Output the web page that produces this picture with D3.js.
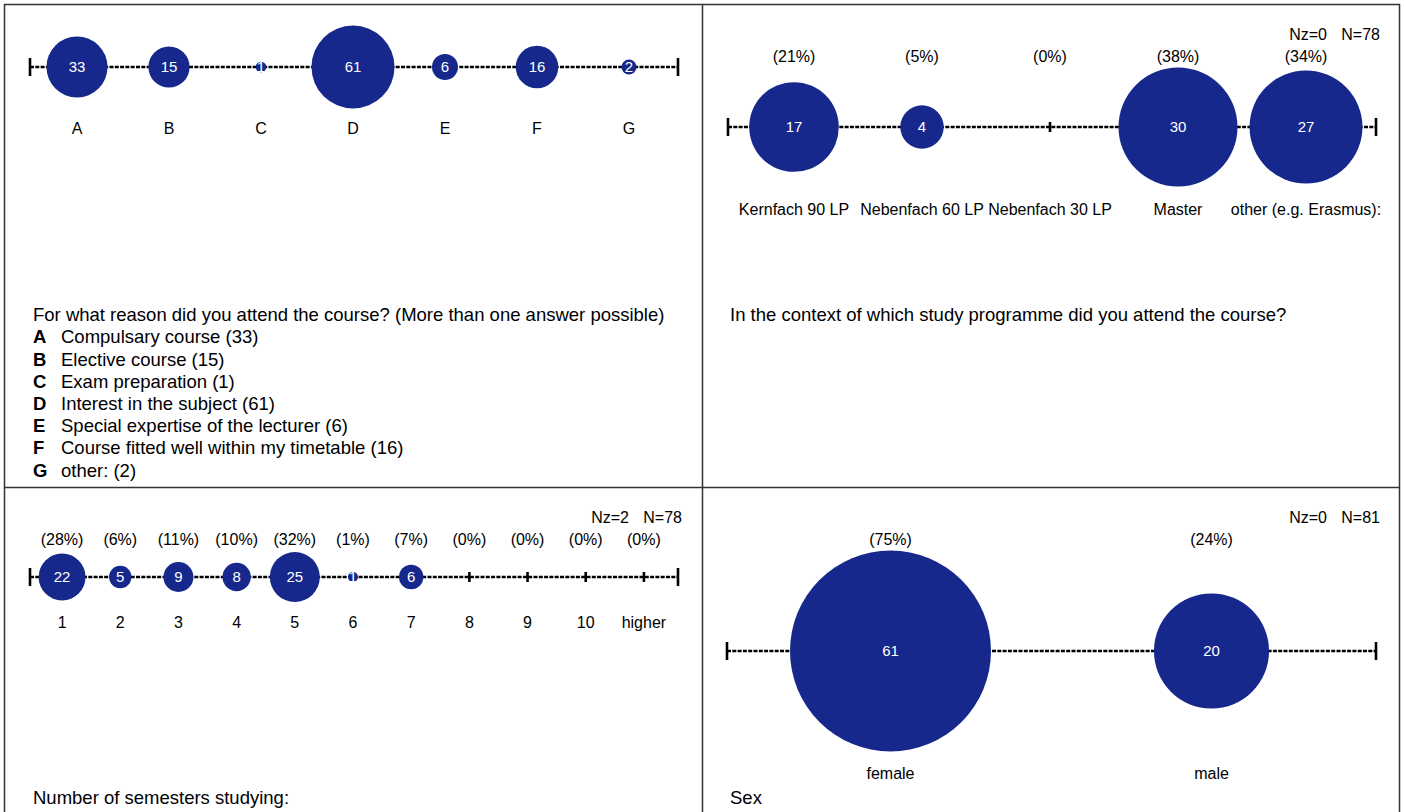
<!DOCTYPE html>
<html><head><meta charset="utf-8">
<script src="https://cdn.jsdelivr.net/npm/d3@7"></script>
<style>
html,body{margin:0;padding:0;background:#fff;}
svg{display:block;font-family:"Liberation Sans",Arial,sans-serif;}
</style></head>
<body>
<svg id="chart" width="1404" height="812"></svg>
<script>
// ---------- data ----------
const reasonCats = ["A","B","C","D","E","F","G"];
const reasonVals = [33,15,1,61,6,16,2];
const reasonDesc = ["Compulsary course (33)","Elective course (15)","Exam preparation (1)","Interest in the subject (61)","Special expertise of the lecturer (6)","Course fitted well within my timetable (16)","other: (2)"];
const reasonTitle = "For what reason did you attend the course? (More than one answer possible)";

const programmeCats = ["Kernfach 90 LP","Nebenfach 60 LP","Nebenfach 30 LP","Master","other (e.g. Erasmus):"];
const programmeVals = [17,4,0,30,27];
const programmePct = ["(21%)","(5%)","(0%)","(38%)","(34%)"];
const programmeTitle = "In the context of which study programme did you attend the course?";
const programmeNz = "Nz=0", programmeN = "N=78";

const semesterCats = ["1","2","3","4","5","6","7","8","9","10","higher"];
const semesterVals = [22,5,9,8,25,1,6,0,0,0,0];
const semesterPct = ["(28%)","(6%)","(11%)","(10%)","(32%)","(1%)","(7%)","(0%)","(0%)","(0%)","(0%)"];
const semesterTitle = "Number of semesters studying:";
const semesterNz = "Nz=2", semesterN = "N=78";

const sexCats = ["female","male"];
const sexVals = [61,20];
const sexPct = ["(75%)","(24%)"];
const sexTitle = "Sex";
const sexNz = "Nz=0", sexN = "N=81";

// ---------- drawing ----------
const svg = d3.select("#chart");
const BLUE = "#17288c";
const FS = 16, VFS = 15, TFS = 18.5;

// frame
svg.append("rect").attr("x",4.5).attr("y",4.5).attr("width",1395).attr("height",820)
  .attr("fill","none").attr("stroke","#333").attr("stroke-width",1.5);
svg.append("line").attr("x1",702.5).attr("x2",702.5).attr("y1",4).attr("y2",812).attr("stroke","#333").attr("stroke-width",1.5);
svg.append("line").attr("x1",4).attr("x2",1400).attr("y1",487.5).attr("y2",487.5).attr("stroke","#333").attr("stroke-width",1.5);

function panel(o){
  const g = svg.append("g");
  const x = d3.scalePoint().domain(o.cats).range(o.range).padding(0.5);
  const r = d3.scaleSqrt().domain([0, d3.max(o.vals)]).range([0, o.rmax]);
  // dashed axis line
  g.append("line").attr("x1",o.ax[0]).attr("x2",o.ax[1]).attr("y1",o.y).attr("y2",o.y)
    .attr("stroke","#000").attr("stroke-width",2.7).attr("stroke-dasharray","4,1.3");
  // end caps
  o.ax.forEach(v=>g.append("line").attr("x1",v).attr("x2",v).attr("y1",o.y-9).attr("y2",o.y+9)
    .attr("stroke","#000").attr("stroke-width",2.6));
  // category ticks
  g.selectAll(".tk").data(o.cats).join("line")
    .attr("x1",d=>x(d)).attr("x2",d=>x(d)).attr("y1",o.y-5).attr("y2",o.y+5)
    .attr("stroke","#000").attr("stroke-width",2.6);
  // circles
  const idx = d3.range(o.cats.length);
  g.selectAll("circle").data(idx.filter(i=>o.vals[i]>0)).join("circle")
    .attr("cx",i=>x(o.cats[i])).attr("cy",o.y).attr("r",i=>r(o.vals[i])).attr("fill",BLUE);
  g.selectAll(".val").data(idx.filter(i=>o.vals[i]>0)).join("text")
    .attr("x",i=>x(o.cats[i])).attr("y",o.y).attr("dy","0.35em").attr("text-anchor","middle")
    .attr("fill","#fff").attr("font-size",VFS).text(i=>o.vals[i]);
  // category labels
  g.selectAll(".cl").data(o.cats).join("text")
    .attr("x",d=>x(d)).attr("y",o.labY).attr("dy","0.35em").attr("text-anchor","middle")
    .attr("font-size",FS).attr("fill","#000").text(d=>d);
  if(o.pct){
    g.selectAll(".pc").data(o.pct).join("text")
      .attr("x",(d,i)=>x(o.cats[i])).attr("y",o.pctY).attr("dy","0.35em").attr("text-anchor","middle")
      .attr("font-size",FS).attr("fill","#000").text(d=>d);
  }
  if(o.N){
    g.append("text").attr("x",o.nx).attr("y",o.nY).attr("dy","0.35em").attr("text-anchor","end")
      .attr("font-size",FS).text(o.N);
    g.append("text").attr("x",o.nx-53).attr("y",o.nY).attr("dy","0.35em").attr("text-anchor","end")
      .attr("font-size",FS).text(o.Nz);
  }
  g.append("text").attr("x",o.tx).attr("y",o.ty).attr("dy","0.35em").attr("font-size",TFS).text(o.title);
}

panel({cats:reasonCats, vals:reasonVals, range:[31,675], ax:[30,678], y:67, rmax:41.5, labY:128,
  tx:33, ty:315, title:reasonTitle});
// legend for reasons
const leg = svg.append("g");
reasonCats.forEach((c,i)=>{
  const yy = 337 + i*22.2;
  leg.append("text").attr("x",33).attr("y",yy).attr("dy","0.35em").attr("font-size",TFS).attr("font-weight","bold").text(c);
  leg.append("text").attr("x",61).attr("y",yy).attr("dy","0.35em").attr("font-size",TFS).text(reasonDesc[i]);
});

panel({cats:programmeCats, vals:programmeVals, pct:programmePct, range:[730,1370], ax:[728,1376], y:127, rmax:59.5,
  labY:209, pctY:56, nY:34, nx:1380, N:programmeN, Nz:programmeNz, tx:730, ty:315, title:programmeTitle});

panel({cats:semesterCats, vals:semesterVals, pct:semesterPct, range:[33,673], ax:[30,678], y:577, rmax:25,
  labY:622, pctY:539, nY:517, nx:682, N:semesterN, Nz:semesterNz, tx:33, ty:798, title:semesterTitle});

panel({cats:sexCats, vals:sexVals, pct:sexPct, range:[730,1372], ax:[727,1376], y:651, rmax:100.5,
  labY:773, pctY:539, nY:517, nx:1380, N:sexN, Nz:sexNz, tx:730, ty:798, title:sexTitle});
</script>
</body></html>
